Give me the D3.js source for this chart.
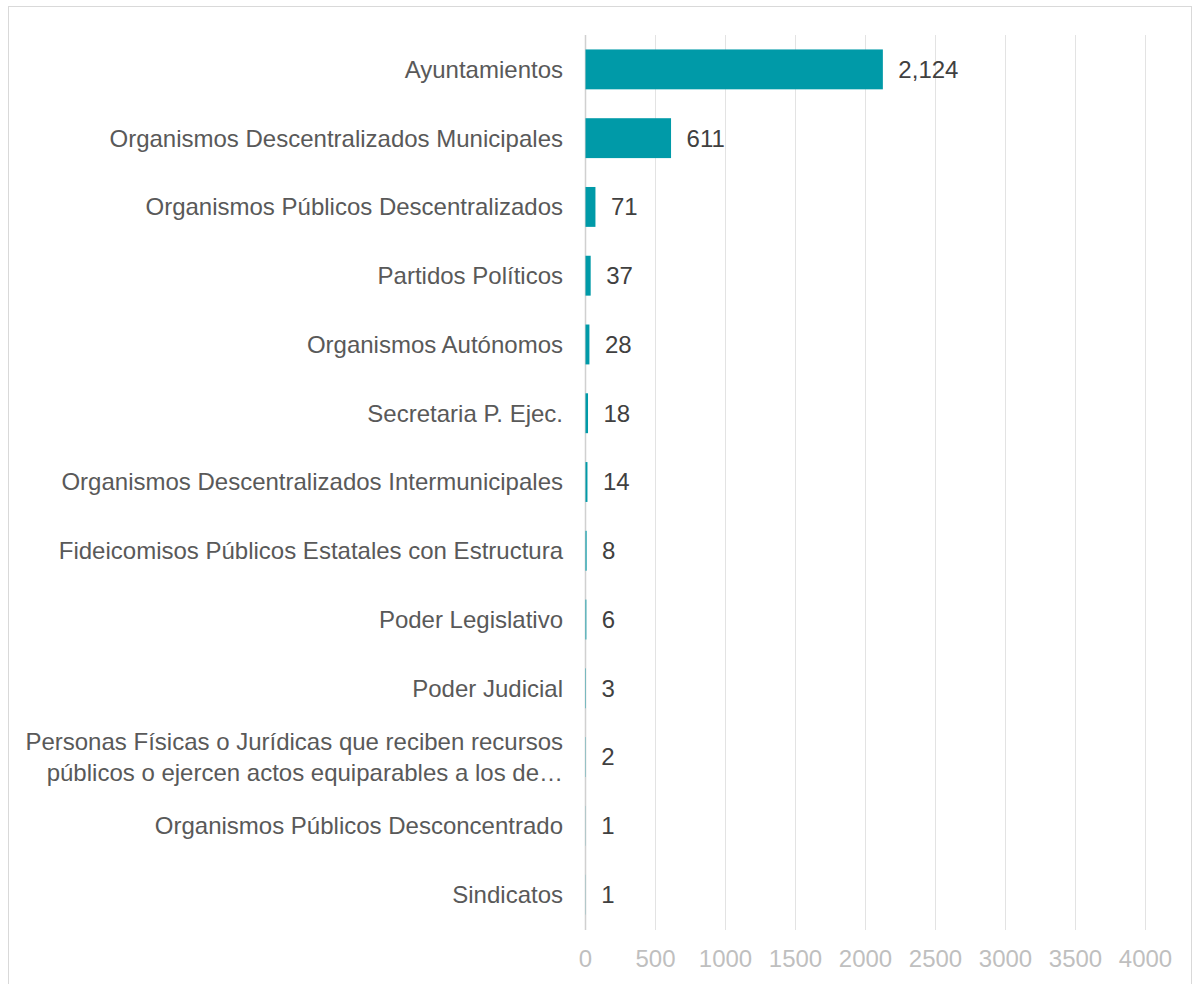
<!DOCTYPE html>
<html>
<head>
<meta charset="UTF-8">
<title>Sujetos obligados</title>
<script src="https://cdn.jsdelivr.net/npm/d3@7/dist/d3.min.js"></script>
<style>
  body { margin: 0; background: #fff; }
  svg text { font-family: Arial, "Liberation Sans", Helvetica, sans-serif; }
</style>
</head>
<body>
<div id="chart"></div>
<script>

// data
var categories = [
  "Ayuntamientos",
  "Organismos Descentralizados Municipales",
  "Organismos Públicos Descentralizados",
  "Partidos Políticos",
  "Organismos Autónomos",
  "Secretaria P. Ejec.",
  "Organismos Descentralizados Intermunicipales",
  "Fideicomisos Públicos Estatales con Estructura",
  "Poder Legislativo",
  "Poder Judicial",
  "Personas Físicas o Jurídicas que reciben recursos|públicos o ejercen actos equiparables a los de…",
  "Organismos Públicos Desconcentrado",
  "Sindicatos"
]
var values = [2124, 611, 71, 37, 28, 18, 14, 8, 6, 3, 2, 1, 1]
var tickValues = [0, 500, 1000, 1500, 2000, 2500, 3000, 3500, 4000]

var width = 1200, height = 984

var svg = d3.select("#chart").append("svg")
  .attr("width", width)
  .attr("height", height)

// outer frame
svg.append("rect")
  .attr("x", 8.5).attr("y", 6.5)
  .attr("width", 1183).attr("height", 990)
  .attr("fill", "none")
  .attr("stroke", "#d9d9d9")
  .attr("stroke-width", 1)

var x = d3.scaleLinear().domain([0, 4000]).range([585, 1145])
var y = d3.scaleBand().domain(categories)
  .range([35, 929])
  .paddingInner(0.42)
  .paddingOuter(0.21)

// gridlines
svg.append("g").selectAll("line")
  .data(tickValues).enter()
  .append("line")
  .attr("x1", function(d) { return Math.round(x(d)) + 0.5 })
  .attr("x2", function(d) { return Math.round(x(d)) + 0.5 })
  .attr("y1", 35).attr("y2", 930)
  .attr("stroke", function(d) { return d === 0 ? "#d0d0d0" : "#e3e3e3" })
  .attr("stroke-width", function(d) { return d === 0 ? 1.5 : 1 })

// x axis labels
var xAxis = d3.axisBottom(x).tickValues(tickValues).tickFormat(d3.format("d"))
  .tickSize(0).tickPadding(0)
var ax = svg.append("g").attr("transform", "translate(0,967)").call(xAxis)
ax.attr("font-family", null).attr("font-size", null)
ax.select(".domain").remove()
ax.selectAll("text")
  .attr("dy", null)
  .attr("y", 0)
  .style("font-size", "24px")
  .attr("fill", "#bfbfbf")

// bars
svg.append("g").selectAll("rect")
  .data(values).enter()
  .append("rect")
  .attr("x", x(0) + 0.5)
  .attr("y", function(d, i) { return y(categories[i]) })
  .attr("width", function(d) { return Math.max(0, x(d) - x(0)) })
  .attr("height", y.bandwidth())
  .attr("fill", "#009aa8")

// value labels
svg.append("g").selectAll("text")
  .data(values).enter()
  .append("text")
  .attr("x", function(d) { return x(d) + 16 })
  .attr("y", function(d, i) { return y(categories[i]) + y.bandwidth() / 2 })
  .attr("dy", "0.35em")
  .attr("font-size", "24px")
  .attr("fill", "#404040")
  .text(function(d) { return d3.format(",")(d) })

// category labels
var labels = svg.append("g").selectAll("text")
  .data(categories).enter()
  .append("text")
  .attr("text-anchor", "end")
  .attr("font-size", "24px")
  .attr("fill", "#595959")
  .attr("transform", function(d) {
    return "translate(563," + (y(d) + y.bandwidth() / 2) + ")"
  })

labels.each(function(d) {
  var lines = d.split("|")
  var t = d3.select(this)
  lines.forEach(function(l, j) {
    t.append("tspan")
      .attr("x", 0)
      .attr("y", (j - (lines.length - 1) / 2) * 31)
      .attr("dy", "0.35em")
      .text(l)
  })
})

</script>
</body>
</html>
